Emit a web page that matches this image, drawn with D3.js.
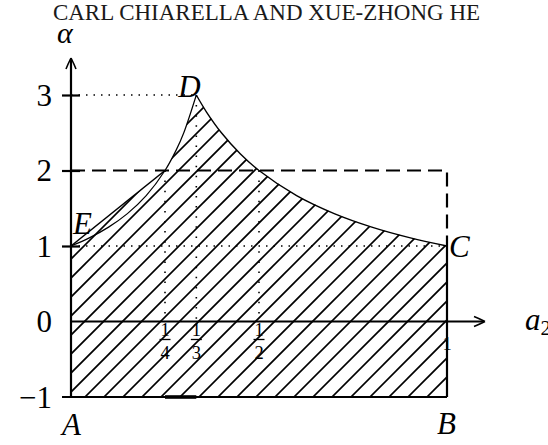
<!DOCTYPE html>
<html>
<head>
<meta charset="utf-8">
<script src="https://cdn.jsdelivr.net/npm/d3@7"></script>
<style>
  html, body { margin: 0; padding: 0; background: #fff; }
  svg { display: block; }
  .serif { font-family: "Liberation Serif", "DejaVu Serif", serif; }
</style>
</head>
<body>
<div id="chart"></div>
<script>
// Stability region in the (a2, alpha) plane
const title = "CARL CHIARELLA AND XUE-ZHONG HE";
const yTicks = [-1, 0, 1, 2, 3];
const xFracTicks = [{v: 1/4, d: "4"}, {v: 1/3, d: "3"}, {v: 1/2, d: "2"}];

// upper-left boundary curve E -> D
const leftCurve = [
  [0, 1], [0.05, 1.111], [0.1, 1.25], [0.15, 1.429], [0.2, 1.667],
  [0.25, 2], [0.28, 2.273], [0.3, 2.5], [0.3333, 3]
];
// upper-right boundary curve D -> C
const rightCurve = [
  [0.3333, 3], [0.36, 2.778], [0.4, 2.5], [0.45, 2.222], [0.5, 2],
  [0.6, 1.667], [0.7, 1.429], [0.8, 1.25], [0.9, 1.111], [1, 1]
];
// corner points
const pA = [0, -1], pB = [1, -1], pC = [1, 1], pD = [0.3333, 3], pE = [0, 1], pF = [0.25, 2];
const pointLabels = [
  {t: "A", p: pA, dx: -9, dy: 38},
  {t: "B", p: pB, dx: -10, dy: 37},
  {t: "C", p: pC, dx: 2, dy: 11},
  {t: "D", p: pD, dx: -18, dy: 2},
  {t: "E", p: pE, dx: 2, dy: -12}
];

const W = 548, H = 445;
const x = d3.scaleLinear().domain([0, 1]).range([71, 447]);
const y = d3.scaleLinear().domain([-1, 3]).range([397, 95]);

const svg = d3.select("#chart").append("svg")
  .attr("width", W).attr("height", H);

svg.append("text").attr("class", "serif")
  .attr("x", 266.5).attr("y", 20)
  .attr("text-anchor", "middle")
  .attr("font-size", 23).attr("fill", "#1a1a1a")
  .text(title);

const line = d3.line().x(d => x(d[0])).y(d => y(d[1]));
const smooth = d3.line().x(d => x(d[0])).y(d => y(d[1])).curve(d3.curveCatmullRom);

// hatched region outline
const regionPts = [pA, pE, pF]
  .concat(leftCurve.filter(d => d[0] > 0.25))
  .concat(rightCurve.slice(1))
  .concat([pB]);
const regionPath = d3.line().x(d => x(d[0])).y(d => y(d[1])).curve(d3.curveLinear)(regionPts) + "Z";

svg.append("clipPath").attr("id", "region")
  .append("path").attr("d", regionPath);

// 45 degree hatching clipped to the region
const step = 19, c0 = 482;
const hatch = d3.range(-18, 22).map(k => c0 + k * step);
svg.append("g").attr("clip-path", "url(#region)")
  .selectAll("line").data(hatch).join("line")
  .attr("x1", c => c - 400).attr("y1", 400)
  .attr("x2", c => c - 60).attr("y2", 60)
  .attr("stroke", "#000").attr("stroke-width", 1.7);

// dotted guide lines
const dotsH = [[pE, pC], [[0, 3], pD]];
const dotsV = [[[0.25, 0], pF], [[0.3333, 0], pD], [[0.5, 0], [0.5, 2]]];
svg.append("g").selectAll("path").data(dotsH).join("path")
  .attr("d", d => line(d))
  .attr("stroke", "#000").attr("stroke-width", 1.6)
  .attr("stroke-dasharray", "1.5 6").attr("fill", "none");
svg.append("g").selectAll("path").data(dotsV).join("path")
  .attr("d", d => line(d.slice().reverse()))
  .attr("stroke", "#000").attr("stroke-width", 1.6)
  .attr("stroke-dasharray", "1.5 8.6").attr("fill", "none");

// dashed box alpha = 2
svg.append("path")
  .attr("d", line([[0, 2], [1, 2], pC]))
  .attr("stroke", "#000").attr("stroke-width", 2.2)
  .attr("stroke-dasharray", "14 7").attr("fill", "none");

// boundary curves
svg.append("path").attr("d", smooth(leftCurve))
  .attr("stroke", "#000").attr("stroke-width", 1.2).attr("fill", "none");
svg.append("path").attr("d", smooth(rightCurve))
  .attr("stroke", "#000").attr("stroke-width", 1.4).attr("fill", "none");
svg.append("path").attr("d", line([pE, pF]))
  .attr("stroke", "#000").attr("stroke-width", 1.6).attr("fill", "none");

// right and bottom edges
svg.append("path").attr("d", line([pC, pB]))
  .attr("stroke", "#000").attr("stroke-width", 2.2).attr("fill", "none");
svg.append("path").attr("d", `M${x(0) - 9},${y(-1)}H${x(1)}`)
  .attr("stroke", "#000").attr("stroke-width", 2.2);
svg.append("path").attr("d", line([[0.25, -1], [0.3333, -1]]))
  .attr("stroke", "#000").attr("stroke-width", 3.6);

// axes
const arrow = (tx, ty, ang) => {
  const g = svg.append("g").attr("transform", `translate(${tx},${ty}) rotate(${ang})`);
  g.append("path").attr("d", "M0,0 Q-3,6 -5,11 M0,0 Q3,6 5,11")
    .attr("stroke", "#000").attr("stroke-width", 1.6).attr("fill", "none");
};
svg.append("path").attr("d", `M${x(0)},${y(-1)}V${59}`)
  .attr("stroke", "#000").attr("stroke-width", 2.2);
arrow(x(0), 58, 0);
svg.append("path").attr("d", `M${x(0)},${y(0)}H${484}`)
  .attr("stroke", "#000").attr("stroke-width", 2.2);
arrow(485, y(0), 90);

const yAxis = d3.axisLeft(y).tickValues(yTicks).tickFormat(d3.format("d"))
  .tickSize(18).tickPadding(10);
const gy = svg.append("g").attr("transform", `translate(${x(0) + 9},0)`).call(yAxis);
gy.select(".domain").remove();
gy.selectAll(".tick line").attr("stroke-width", 2.2).attr("stroke", "#000")
  .filter(d => d === 0 || d === -1).remove();
gy.selectAll(".tick text").attr("class", "serif")
  .attr("font-size", 31).attr("fill", "#000").attr("dy", "0.33em");

// fraction tick labels on a2
const gx = svg.append("g").selectAll("g").data(xFracTicks).join("g")
  .attr("transform", d => `translate(${x(d.v)},0)`);
gx.append("text").attr("class", "serif").attr("text-anchor", "middle").attr("fill", "#000")
  .attr("y", 336).attr("font-size", 18.5).text("1");
gx.append("line").attr("x1", -5.5).attr("x2", 5.5).attr("y1", 339.5).attr("y2", 339.5)
  .attr("stroke", "#000").attr("stroke-width", 1.3);
gx.append("text").attr("class", "serif").attr("text-anchor", "middle").attr("fill", "#000")
  .attr("y", 359).attr("font-size", 18.5).text(d => d.d);
svg.append("text").attr("class", "serif").attr("text-anchor", "middle").attr("fill", "#000")
  .attr("x", x(1)).attr("y", 350).attr("font-size", 18.5).text("1");

// axis names
svg.append("text").attr("class", "serif").attr("font-style", "italic").attr("fill", "#000")
  .attr("x", 57).attr("y", 43).attr("font-size", 30).text("α");
const a2 = svg.append("text").attr("class", "serif").attr("font-style", "italic").attr("fill", "#000")
  .attr("x", 525).attr("y", 330).attr("font-size", 31);
a2.append("tspan").text("a");
a2.append("tspan").attr("font-style", "normal").attr("font-size", 21).attr("dy", 5).text("2");

// corner labels
svg.append("g").selectAll("text").data(pointLabels).join("text")
  .attr("class", "serif").attr("font-style", "italic").attr("font-size", 31).attr("fill", "#000")
  .attr("x", d => x(d.p[0]) + d.dx).attr("y", d => y(d.p[1]) + d.dy)
  .text(d => d.t);
</script>
</body>
</html>
